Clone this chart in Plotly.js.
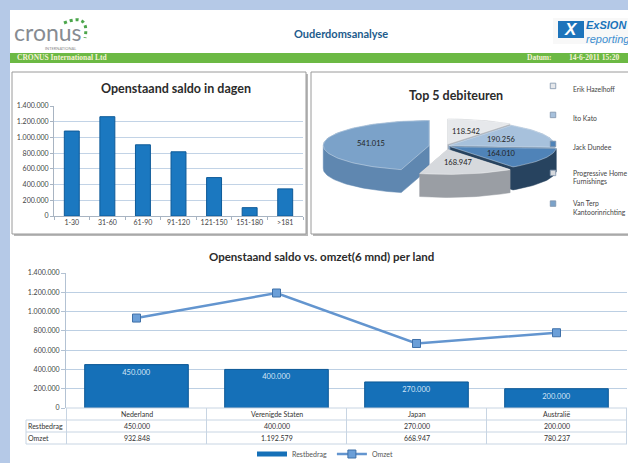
<!DOCTYPE html>
<html><head><meta charset="utf-8">
<script src="https://cdn.plot.ly/plotly-3.0.1.min.js"></script>
<style>html,body{margin:0;padding:0;background:#b5c9e7;} #chart{width:628px;height:463px;}</style>
</head><body><div id="chart"></div>
<script>
// ---------- DATA ----------
const agingBuckets = ['1-30','31-60','61-90','91-120','121-150','151-180','>181'];
const agingValues  = [1081000, 1264000, 906000, 817000, 489000, 106000, 345000];

const debtorNames  = ['Erik Hazelhoff','Ito Kato','Jack Dundee','Progressive Home Furnishings','Van Terp Kantoorinrichting'];
const debtorLegend = ['Erik Hazelhoff','Ito Kato','Jack Dundee','Progressive Home<br>Furnishings','Van Terp<br>Kantoorinrichting'];
const debtorValues = [118542, 190256, 164010, 168947, 541015];

const countries   = ['Nederland','Verenigde Staten','Japan','Australië'];
const restbedrag  = [450000, 400000, 270000, 200000];
const omzet       = [932848, 1192579, 668947, 780237];
const tableRowLabels = ['Restbedrag','Omzet'];

// ---------- STYLE / GEOMETRY ----------
const W = 628, H = 463;
const px = x => x / W;
const py = y => 1 - y / H;
const fmt = n => String(Math.round(n)).replace(/\B(?=(\d{3})+(?!\d))/g, '.');

const topColors  = ['#e6e8eb', '#a7c1dc', '#4f83b8', '#d6d9dd', '#7ba2c9'];
const sideColors = ['#b3b7bd', '#7b9bbd', '#27435f', '#9a9ea4', '#5f87b0'];
const pulls      = [0.08, 0.04, 0.06, 0.14, 0.15];
const A = 106, B = 25, T = 23;

function hull(points) {
  const p = points.slice().sort((u, v) => u[0] - v[0] || u[1] - v[1]);
  const cross = (o, a, b) => (a[0]-o[0])*(b[1]-o[1]) - (a[1]-o[1])*(b[0]-o[0]);
  const lower = [], upper = [];
  for (const q of p) { while (lower.length >= 2 && cross(lower[lower.length-2], lower[lower.length-1], q) <= 0) lower.pop(); lower.push(q); }
  for (let i = p.length - 1; i >= 0; i--) { const q = p[i]; while (upper.length >= 2 && cross(upper[upper.length-2], upper[upper.length-1], q) <= 0) upper.pop(); upper.push(q); }
  upper.pop(); lower.pop();
  return lower.concat(upper);
}

const total = debtorValues.reduce((s, v) => s + v, 0);
let acc = 0;
const slices = debtorValues.map((v, i) => {
  const s = acc / total * 360, e = (acc + v) / total * 360; acc += v;
  const mid = (s + e) / 2 * Math.PI / 180;
  const ox = pulls[i] * A * Math.sin(mid), oy = pulls[i] * B * Math.cos(mid);
  const top = [[ox, oy]];
  const n = Math.max(4, Math.ceil((e - s) / 2));
  for (let k = 0; k <= n; k++) {
    const th = (s + (e - s) * k / n) * Math.PI / 180;
    top.push([ox + A * Math.sin(th), oy + B * Math.cos(th)]);
  }
  const bottom = top.map(p => [p[0], p[1] - T]);
  const h = hull(top.concat(bottom));
  return { i, mid, ox, oy, top, h, v };
});
const order = slices.slice().sort((a, b) => Math.cos(b.mid) - Math.cos(a.mid));

const traces = [];
traces.push({
  type: 'bar', x: agingBuckets, y: agingValues, xaxis: 'x', yaxis: 'y', width: 0.42,
  marker: { color: '#1b78c0', line: { color: '#0e5a98', width: 1 } },
  showlegend: false, hoverinfo: 'skip'
});

order.forEach(sl => {
  const hp = sl.h.concat([sl.h[0]]);
  traces.push({
    type: 'scatter', mode: 'lines', x: hp.map(p => p[0]), y: hp.map(p => p[1]),
    xaxis: 'x3', yaxis: 'y3', fill: 'toself', fillcolor: sideColors[sl.i],
    line: { color: sideColors[sl.i], width: 0.5 }, showlegend: false, hoverinfo: 'skip'
  });
  const tp = sl.top.concat([sl.top[0]]);
  traces.push({
    type: 'scatter', mode: 'lines', x: tp.map(p => p[0]), y: tp.map(p => p[1]),
    xaxis: 'x3', yaxis: 'y3', fill: 'toself', fillcolor: topColors[sl.i],
    line: { color: 'rgba(255,255,255,0.6)', width: 0.6 }, showlegend: false, hoverinfo: 'skip'
  });
});

debtorNames.forEach((nm, i) => {
  traces.push({
    type: 'scatter', mode: 'markers', x: [null], y: [null], xaxis: 'x3', yaxis: 'y3',
    name: debtorLegend[i], legend: 'legend', legendgroup: 'd' + i, legendrank: i + 1,
    marker: { symbol: 'square', size: 5.5, color: topColors[i], line: { color: '#7f93ab', width: 0.8 } },
    showlegend: true, hoverinfo: 'skip'
  });
});

traces.push({
  type: 'bar', name: 'Restbedrag', x: countries, y: restbedrag, xaxis: 'x2', yaxis: 'y2', width: 0.74,
  text: restbedrag.map(fmt), textposition: 'inside', insidetextanchor: 'end', textangle: 0,
  constraintext: 'none', textfont: { color: '#d3e5f6', size: 7.5, family: 'Lato, sans-serif' },
  marker: { color: '#1570b8', line: { color: '#0c5896', width: 1 } },
  showlegend: false, hoverinfo: 'skip'
});
// legend key for the bar series (wide flat key like the original)
traces.push({
  type: 'scatter', mode: 'lines', name: 'Restbedrag', x: [null], y: [null], xaxis: 'x2', yaxis: 'y2',
  line: { color: '#1570b8', width: 5 }, legend: 'legend2', hoverinfo: 'skip'
});
traces.push({
  type: 'scatter', name: 'Omzet', x: countries, y: omzet, xaxis: 'x2', yaxis: 'y2',
  mode: 'lines+markers', line: { color: '#6395cf', width: 2.5 },
  marker: { symbol: 'square', size: 8, color: '#6b9fd8', line: { color: '#3f70a8', width: 1 } },
  legend: 'legend2', hoverinfo: 'skip'
});

// ---------- annotations ----------
const annotations = [];
slices.forEach(sl => {
  annotations.push({
    xref: 'x3', yref: 'y3', x: sl.ox + 0.55 * A * Math.sin(sl.mid), y: sl.oy + 0.55 * B * Math.cos(sl.mid),
    xanchor: 'center', yanchor: 'middle',
    text: fmt(sl.v), showarrow: false, font: { size: 7.5, color: '#222', family: 'Lato, sans-serif' }
  });
});

function ann(x, y, text, font, extra) {
  annotations.push(Object.assign({ xref: 'paper', yref: 'paper', x: px(x), y: py(y), text, showarrow: false,
    xanchor: 'center', yanchor: 'middle', font }, extra || {}));
}
ann(341, 34, '<b>Ouderdomsanalyse</b>', { family: 'Lato, sans-serif', size: 11, color: '#1d5b8c' });
ann(13, 32, 'cronus', { family: 'Lato, sans-serif', size: 23, color: '#878c92' }, { xanchor: 'left', borderpad: 0 });
ann(60, 49, 'INTERNATIONAL', { family: 'Lato, sans-serif', size: 4, color: '#888' }, { borderpad: 0 });
ann(571, 29.5, '<b><i>X</i></b>', { family: 'Liberation Sans, sans-serif', size: 17, color: 'white' });
ann(585, 31.5, '<b><i>ExSION</i></b><br><span style="color:#3d8fd1"><i>reporting</i></span>',
  { family: 'Liberation Sans, sans-serif', size: 11, color: '#1a74bb' }, { xanchor: 'left', align: 'left', borderpad: 0 });
ann(15, 58, '<b>CRONUS International Ltd</b>', { family: 'Liberation Serif, serif', size: 7.5, color: '#f5f2d5' }, { xanchor: 'left' });
ann(525, 58, '<b>Datum:</b>', { family: 'Liberation Serif, serif', size: 7.5, color: '#f5f2d5' }, { xanchor: 'left' });
ann(568, 58, '<b>14-6-2011 15:20</b>', { family: 'Liberation Serif, serif', size: 7.5, color: '#f5f2d5' }, { xanchor: 'left', borderpad: 0 });
ann(176, 88, '<b>Openstaand saldo in dagen</b>', { family: 'Lato, sans-serif', size: 12.5, color: '#2b2b2b' });
ann(456, 95, '<b>Top 5 debiteuren</b>', { family: 'Lato, sans-serif', size: 12.5, color: '#2b2b2b' });
ann(321, 256, '<b>Openstaand saldo vs. omzet(6 mnd) per land</b>', { family: 'Lato, sans-serif', size: 11.5, color: '#2b2b2b' });

// ---------- data table under the bottom chart ----------
const rowY = [414, 426, 438];           // centre of header row, row 1, row 2 (px)
const rowEdges = [408, 420, 432, 444];
const tblFont = { size: 7, color: '#333', family: 'Lato, sans-serif' };
countries.forEach((c, i) => {
  [c, fmt(restbedrag[i]), fmt(omzet[i])].forEach((txt, k) => {
    annotations.push({ xref: 'x2', yref: 'paper', x: c, y: py(rowY[k]), xanchor: 'center', yanchor: 'middle',
      text: txt, showarrow: false, font: tblFont, borderpad: 0 });
  });
});
tableRowLabels.forEach((r, k) => {
  annotations.push({ xref: 'paper', yref: 'paper', x: px(27), y: py(rowY[k + 1]), xanchor: 'left', yanchor: 'middle',
    text: r, showarrow: false, font: tblFont, borderpad: 0 });
});

function rect(x0, y0, x1, y1, o) {
  return Object.assign({ type: 'rect', xref: 'paper', yref: 'paper', x0: px(x0), x1: px(x1), y0: py(y1), y1: py(y0),
    layer: 'below', line: { width: 0 } }, o);
}
const gridLine = '#c8d5e3';
const shapes = [
  rect(10, 10, 640, 470, { fillcolor: 'white' }),
  rect(10, 53, 640, 63, { fillcolor: '#6cb944' }),
  rect(553, 18, 640, 44, { fillcolor: '#f8f8f8' }),
  rect(558, 21, 584, 38, { fillcolor: '#1e74bb', layer: 'above' }),
  rect(14, 74, 308, 236, { fillcolor: '#b8b8b8' }),
  rect(12, 72, 306, 234, { fillcolor: 'white', line: { color: '#9a9a9a', width: 1 } }),
  rect(313, 74, 660, 236, { fillcolor: '#b8b8b8' }),
  rect(311, 72, 660, 234, { fillcolor: 'white', line: { color: '#9a9a9a', width: 1 } }),
  { type: 'path', xref: 'paper', yref: 'paper',
    path: `M ${px(64)} ${py(23)} Q ${px(90)} ${py(12)} ${px(85)} ${py(38)}`,
    line: { color: '#4ca64c', width: 3, dash: 'dot' } }
];
// table grid
shapes.push({ type: 'line', xref: 'paper', yref: 'paper', x0: px(66), x1: px(627), y0: py(rowEdges[0]), y1: py(rowEdges[0]), line: { color: gridLine, width: 1 } });
for (let k = 1; k < rowEdges.length; k++) {
  shapes.push({ type: 'line', xref: 'paper', yref: 'paper', x0: px(26), x1: px(627), y0: py(rowEdges[k]), y1: py(rowEdges[k]), line: { color: gridLine, width: 1 } });
}
shapes.push({ type: 'line', xref: 'paper', yref: 'paper', x0: px(26), x1: px(26), y0: py(rowEdges[1]), y1: py(rowEdges[3]), line: { color: gridLine, width: 1 } });
for (let i = 0; i <= countries.length; i++) {
  shapes.push({ type: 'line', xref: 'x2', yref: 'paper', x0: i - 0.5, x1: i - 0.5, y0: py(rowEdges[0]), y1: py(rowEdges[3]), line: { color: gridLine, width: 1 } });
}

const axFont = { size: 7, color: '#444', family: 'Lato, sans-serif' };
const layout = {
  width: W, height: H, margin: { l: 0, r: 0, t: 0, b: 0, autoexpand: false },
  paper_bgcolor: '#b5c9e7', plot_bgcolor: 'rgba(0,0,0,0)', separators: ',.',
  font: { family: 'Lato, sans-serif', size: 7, color: '#555' },
  xaxis: { domain: [px(54), px(303)], anchor: 'y', type: 'category', showline: true, linecolor: '#a8b4c2',
    ticks: 'outside', tickson: 'boundaries', ticklen: 3, tickcolor: '#a8b4c2', tickfont: axFont, tickangle: 0, showgrid: false },
  yaxis: { domain: [py(216), py(106)], anchor: 'x', range: [0, 1400000], dtick: 200000, tickformat: ',d',
    showline: true, linecolor: '#a8b4c2', ticks: 'outside', ticklen: 3, tickcolor: '#a8b4c2',
    gridcolor: '#c2d3e6', zeroline: false, tickfont: axFont },
  xaxis2: { domain: [px(66), px(627)], anchor: 'y2', type: 'category', showticklabels: false, showline: false, ticks: '', showgrid: false },
  yaxis2: { domain: [py(408), py(273)], anchor: 'x2', range: [0, 1400000], dtick: 200000, tickformat: ',d',
    showline: true, linecolor: '#b3c2d3', ticks: 'outside', ticklen: 4, tickcolor: '#b3c2d3',
    gridcolor: '#bccfe3', zeroline: false, tickfont: axFont },
  xaxis3: { domain: [px(312), px(563)], anchor: 'y3', range: [-133, 118], visible: false },
  yaxis3: { domain: [py(215), py(100)], anchor: 'x3', range: [-69, 46], visible: false },
  legend: { x: px(533), y: py(75), xanchor: 'left', yanchor: 'top', bgcolor: 'rgba(0,0,0,0)',
    font: { size: 6.8, color: '#444', family: 'Lato, sans-serif' }, tracegroupgap: 10, valign: 'top', itemwidth: 30 },
  legend2: { orientation: 'h', x: px(325), xanchor: 'center', y: py(454), yanchor: 'middle', bgcolor: 'rgba(0,0,0,0)',
    font: { size: 7, color: '#555', family: 'Lato, sans-serif' }, itemwidth: 30 },
  annotations, shapes
};

Plotly.newPlot('chart', traces, layout, { staticPlot: true, displayModeBar: false });
</script></body></html>
